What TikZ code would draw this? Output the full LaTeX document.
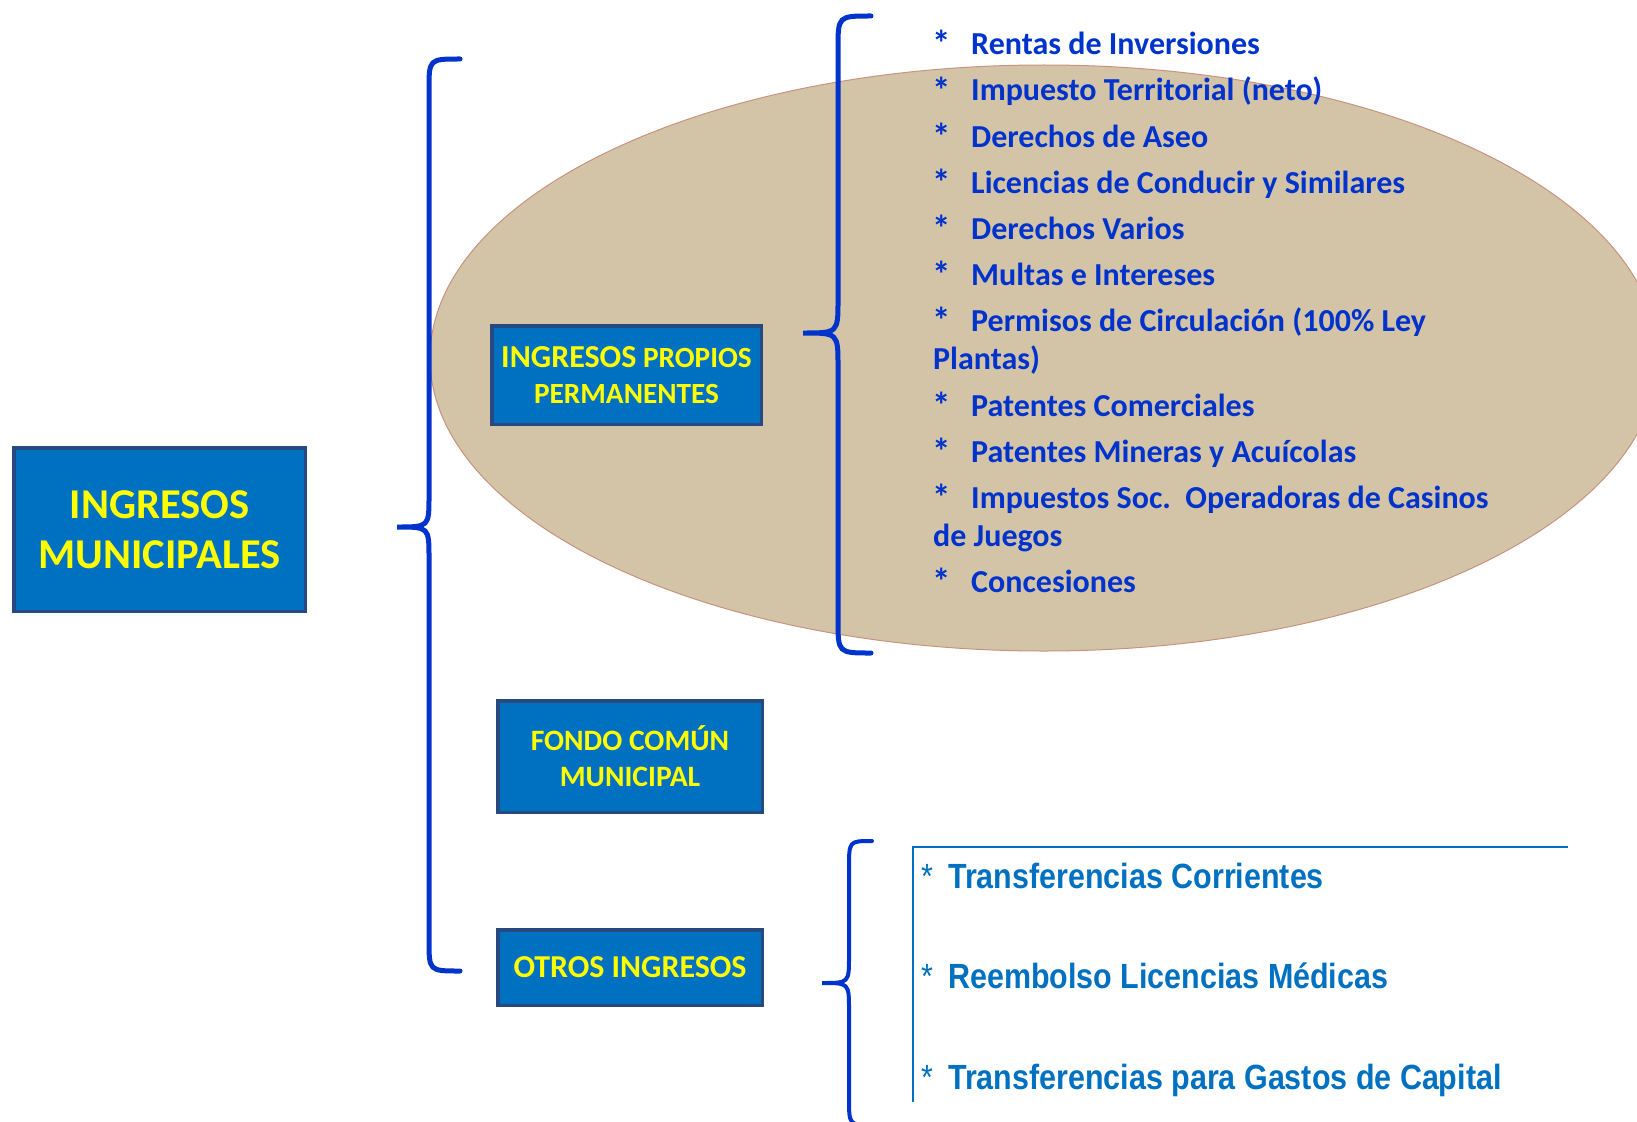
\documentclass[tikz,border=0pt]{standalone}
\usepackage{fontspec}
\setmainfont{Carlito}
\newfontfamily\narrowfont[FakeStretch=0.87]{Liberation Sans}
\usetikzlibrary{calc}

\definecolor{boxblue}{HTML}{0070C0}
\definecolor{boxborder}{HTML}{264A80}
\definecolor{braceblue}{HTML}{0033CC}
\definecolor{ovalfill}{HTML}{D3C4A8}
\definecolor{ovalborder}{HTML}{C9927E}
\definecolor{boxyellow}{HTML}{FFFF00}

\tikzset{
  box/.style={draw=boxborder, line width=3.5pt, fill=boxblue, text=boxyellow,
    align=center, inner sep=0pt},
  brace/.style={draw=braceblue, line cap=round},
  oval/.style={fill=ovalfill, draw=ovalborder, line width=1pt},
  item/.style={anchor=base west, inner sep=0pt, text=braceblue,
    font=\fontsize{32}{38}\selectfont\bfseries},
  other/.style={anchor=base west, inner sep=0pt, text=boxblue,
    font=\narrowfont\fontsize{35}{40}\selectfont\bfseries},
  frame/.style={draw=boxblue, line width=2.5pt}
}

\begin{document}
\begin{tikzpicture}[x=1pt,y=-1pt]

    \clip (0,0) rectangle (1637,1121);

    \coordinate (oval centre) at (1044,358);
    \path[oval] (oval centre) ellipse [x radius=614pt, y radius=293pt];

    \coordinate (main-top)       at (460,59);
    \coordinate (main-tip)       at (397,527);
    \coordinate (main-spine)     at (429,527);
    \coordinate (main-bottom)    at (460,971);
    \coordinate (propios-top)    at (871,16);
    \coordinate (propios-tip)    at (803,333);
    \coordinate (propios-spine)  at (838,333);
    \coordinate (propios-bottom) at (871,653);
    \coordinate (otros-top)      at (872,841);
    \coordinate (otros-tip)      at (822,983);
    \coordinate (otros-spine)    at (849,983);
    \coordinate (otros-bottom)   at (872,1125);

    \foreach \b/\r/\w in {main/31/5, propios/33/5, otros/27/4}
    \draw[brace, line width=\w pt] (\b-top)
      .. controls (\b-spine |- \b-top) .. ($(\b-spine |- \b-top)+(0,\r)$)
      -- ($(\b-spine)-(0,\r)$)
      .. controls (\b-spine) .. (\b-tip)
      .. controls (\b-spine) .. ($(\b-spine)+(0,\r)$)
      -- ($(\b-spine |- \b-bottom)-(0,\r)$)
      .. controls (\b-spine |- \b-bottom) .. (\b-bottom);

    \node[box, minimum width=291.5pt, minimum height=163.5pt,
      font=\fontsize{42.5}{50}\selectfont\bfseries] (municipales) at (159.5,529.5)
      {INGRESOS\\MUNICIPALES};
    \node[box, minimum width=269.5pt, minimum height=98.5pt,
      font=\fontsize{29.3}{36}\selectfont\bfseries] (propios) at (626.5,375)
      {{\fontsize{32}{36}\selectfont INGRESOS} PROPIOS\\PERMANENTES};
    \node[box, minimum width=264.5pt, minimum height=111.5pt,
      font=\fontsize{29.6}{36}\selectfont\bfseries] (fondo) at (630,756.5)
      {FONDO COMÚN\\MUNICIPAL};
    \node[box, minimum width=264.5pt, minimum height=75.5pt,
      font=\fontsize{31.9}{36}\selectfont\bfseries] (otros) at (630,967.5)
      {OTROS INGRESOS};

    \foreach \y/\txt [count=\i] in {55/Rentas de Inversiones,
      101/Impuesto Territorial (neto), 147/Derechos de Aseo,
      193/Licencias de Conducir y Similares, 239/Derechos Varios,
      285/Multas e Intereses, 331/Permisos de Circulación (100\% Ley,
      416/Patentes Comerciales, 462/Patentes Mineras y Acuícolas,
      508/Impuestos Soc.\ \ Operadoras de Casinos, 592/Concesiones}
    {
      \node[item, font=\fontsize{37}{38}\selectfont\bfseries] (star-\i) at (932,\y+2) {*};
      \node[item] (item-\i) at (971,\y) {\txt};
    }
    \node[item] (item-7-rest)  at (933,369) {Plantas)};
    \node[item] (item-10-rest) at (933,546) {de Juegos};

    \coordinate (frame bottom) at (913,1102);
    \coordinate (frame corner) at (913,847);
    \coordinate (frame right)  at (1568,847);
    \draw[frame] (frame bottom) -- (frame corner) -- (frame right);

    \foreach \y/\txt [count=\i] in {888/Transferencias Corrientes,
      988/Reembolso Licencias Médicas, 1089/Transferencias para Gastos de Capital}
    {
      \node[other, font=\narrowfont\fontsize{35}{40}\selectfont] (other-star-\i) at (921,\y) {*};
      \node[other] (other-\i) at (948,\y) {\txt};
    }
  \end{tikzpicture}
\end{document}
